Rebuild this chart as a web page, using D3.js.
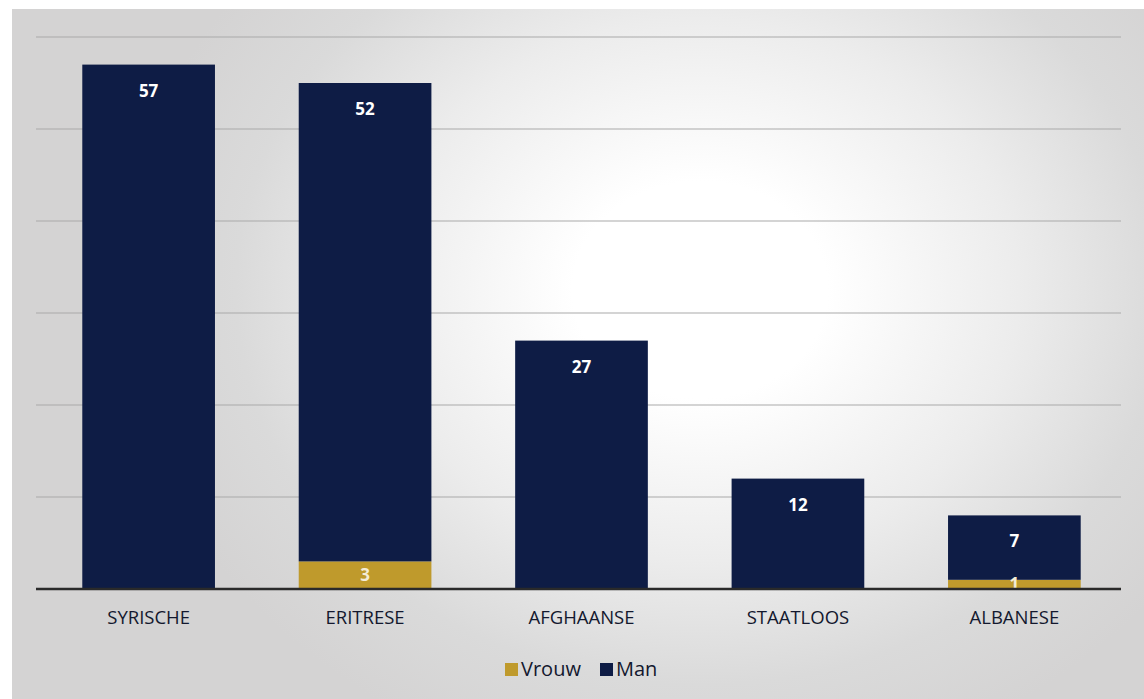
<!DOCTYPE html>
<html>
<head>
<meta charset="utf-8">
<script src="https://cdn.jsdelivr.net/npm/d3@7"></script>
<style>
  html, body { margin: 0; padding: 0; background: #ffffff; }
  svg { display: block; }
  text { font-family: "Open Sans", "Noto Sans", sans-serif; }
</style>
</head>
<body>
<svg id="chart" width="1144" height="699"></svg>
<script>
// Nationalities and counts per gender
const categories = ["SYRISCHE", "ERITRESE", "AFGHAANSE", "STAATLOOS", "ALBANESE"];
const vrouw = [0, 3, 0, 0, 1];
const man = [57, 52, 27, 12, 7];
const seriesNames = ["Vrouw", "Man"];
const gridTicks = [0, 10, 20, 30, 40, 50, 60];

const colors = { Vrouw: "#bf9a2c", Man: "#0e1c45" };

const W = 1144, H = 699;
const svg = d3.select("#chart");

// Background panel with a soft light highlight
const defs = svg.append("defs");
const rg = defs.append("radialGradient")
  .attr("id", "bgGlow")
  .attr("gradientUnits", "userSpaceOnUse")
  .attr("cx", 700).attr("cy", 290).attr("r", 580)
  .attr("gradientTransform", "translate(700,290) scale(1,0.85) translate(-700,-290)");
rg.append("stop").attr("offset", "0%").attr("stop-color", "#ffffff");
rg.append("stop").attr("offset", "22%").attr("stop-color", "#ffffff");
rg.append("stop").attr("offset", "55%").attr("stop-color", "#ececec");
rg.append("stop").attr("offset", "80%").attr("stop-color", "#dadada");
rg.append("stop").attr("offset", "100%").attr("stop-color", "#d4d3d3");

svg.append("rect").attr("x", 0).attr("y", 0).attr("width", W).attr("height", H).attr("fill", "#ffffff");
svg.append("rect").attr("x", 12).attr("y", 9).attr("width", W - 12).attr("height", H - 9).attr("fill", "url(#bgGlow)");

const margin = { left: 36, right: 23 };
const x = d3.scaleBand()
  .domain(categories)
  .range([margin.left + 3, W - margin.right + 3])
  .paddingInner(0.387)
  .paddingOuter(0.2);
const y = d3.scaleLinear()
  .domain([0, 60])
  .range([589, 37]);

// Horizontal gridlines
svg.append("g")
  .selectAll("line")
  .data(gridTicks.slice(1))
  .join("line")
  .attr("x1", margin.left).attr("x2", W - margin.right)
  .attr("y1", d => y(d)).attr("y2", d => y(d))
  .attr("stroke", "#a9a9a9")
  .attr("stroke-width", 1.2);

// Stacked data
const rows = categories.map((c, i) => ({ cat: c, Vrouw: vrouw[i], Man: man[i] }));
const stack = d3.stack().keys(seriesNames)(rows);

const layers = svg.append("g")
  .selectAll("g")
  .data(stack)
  .join("g")
  .attr("fill", d => colors[d.key]);

layers.selectAll("rect")
  .data(d => d.filter(p => p[1] - p[0] > 0))
  .join("rect")
  .attr("x", d => x(d.data.cat))
  .attr("width", x.bandwidth())
  .attr("y", d => y(d[1]))
  .attr("height", d => y(d[0]) - y(d[1]));

// Value labels
stack.forEach(layer => {
  svg.append("g")
    .selectAll("text")
    .data(layer.filter(p => p[1] - p[0] > 0))
    .join("text")
    .attr("x", d => x(d.data.cat) + x.bandwidth() / 2)
    .attr("y", d => {
      const h = y(d[0]) - y(d[1]);
      return h > 40 ? y(d[1]) + 32 : (y(d[0]) + y(d[1])) / 2 + 6;
    })
    .attr("text-anchor", "middle")
    .attr("font-size", 17)
    .attr("font-weight", 700)
    .attr("fill", layer.key === "Vrouw" ? "#f4ecd6" : "#ffffff")
    .text(d => d[1] - d[0]);
});

// Baseline axis
svg.append("line")
  .attr("x1", margin.left).attr("x2", W - margin.right)
  .attr("y1", y(0)).attr("y2", y(0))
  .attr("stroke", "#2a2a2a")
  .attr("stroke-width", 2.5);

// Category labels
const xAxis = svg.append("g")
  .attr("transform", `translate(0,${y(0)})`)
  .call(d3.axisBottom(x).tickSize(0).tickPadding(22));
xAxis.select(".domain").remove();
xAxis.selectAll("text")
  .attr("font-family", "\"Open Sans\", \"Noto Sans\", sans-serif")
  .attr("font-size", 18.5)
  .attr("fill", "#13182e");

// Legend
const legend = svg.append("g").attr("transform", "translate(505,669)");
const items = [
  { key: "Vrouw", dx: 0 },
  { key: "Man", dx: 95 }
];
const li = legend.selectAll("g").data(items).join("g")
  .attr("transform", d => `translate(${d.dx},0)`);
li.append("rect")
  .attr("x", 0).attr("y", -6).attr("width", 13).attr("height", 13)
  .attr("fill", d => colors[d.key]);
li.append("text")
  .attr("x", 16).attr("y", 7)
  .attr("font-size", 20)
  .attr("fill", "#13182e")
  .text(d => d.key);
</script>
</body>
</html>
